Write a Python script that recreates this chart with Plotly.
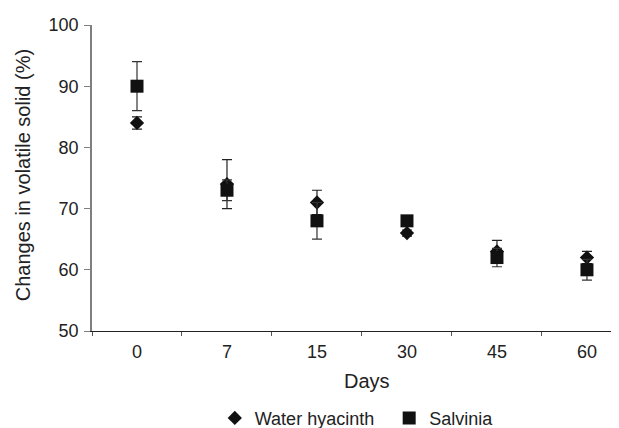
import plotly.graph_objects as go

days = ["0", "7", "15", "30", "45", "60"]
hyacinth = [84, 74, 71, 66, 63, 62]
hyacinth_err = [1.0, 4.0, 2.0, 0.5, 1.8, 1.0]
salvinia = [90, 73, 68, 68, 62, 60]
salvinia_err = [4.0, 1.7, 3.0, 0.5, 1.5, 1.7]

xpos = list(range(len(days)))

fig = go.Figure()
fig.add_trace(go.Scatter(
    x=xpos, y=hyacinth, mode="markers", name="Water hyacinth\u00a0\u00a0",
    marker=dict(symbol="diamond", size=11, color="#111111"),
    error_y=dict(type="data", array=hyacinth_err, color="#222222", thickness=1.2, width=5),
))
fig.add_trace(go.Scatter(
    x=xpos, y=salvinia, mode="markers", name="Salvinia",
    marker=dict(symbol="square", size=13, color="#111111"),
    error_y=dict(type="data", array=salvinia_err, color="#333333", thickness=1.2, width=5),
))

# page body has an 8px margin, so the figure is 8px smaller and offsets shifted
fig.update_layout(
    width=611, height=420,
    margin=dict(l=84, r=0, t=17, b=97, autoexpand=False),
    paper_bgcolor="white", plot_bgcolor="white",
    font=dict(family="Liberation Sans, Arial, sans-serif", size=18, color="#222222"),
    showlegend=True,
    legend=dict(orientation="h", x=0.233, xanchor="left", y=-0.285, yanchor="middle",
                font=dict(size=18), itemwidth=30, tracegroupgap=0),
    xaxis=dict(
        range=[-0.5, 5.356], tickmode="array", tickvals=xpos, ticktext=days,
        ticks="", showline=True, linecolor="#222222", linewidth=1.2,
        showgrid=False, zeroline=False, ticklabelstandoff=4,
        minor=dict(tickmode="array", tickvals=[i + 0.5 for i in range(-1, 6)],
                   ticks="outside", ticklen=4, tickcolor="#555555", tickwidth=1.2),
        tickfont=dict(size=18),
    ),
    yaxis=dict(
        range=[50, 100], tickmode="array", tickvals=[50, 60, 70, 80, 90, 100],
        ticks="outside", ticklen=6, tickcolor="#7f7f7f", tickwidth=1.2,
        showline=True, linecolor="#7f7f7f", linewidth=1.5, ticklabelstandoff=2,
        showgrid=False, zeroline=False, tickfont=dict(size=18),
    ),
    annotations=[
        dict(text="Days", xref="paper", yref="paper", x=0.522, y=-0.164,
             xanchor="center", yanchor="middle", showarrow=False, font=dict(size=20)),
        dict(text="Changes in volatile solid (%)", xref="paper", yref="paper",
             x=-0.131, y=0.509, xanchor="center", yanchor="middle", textangle=-90,
             showarrow=False, font=dict(size=20)),
    ],
)

fig.write_html("out.html")
